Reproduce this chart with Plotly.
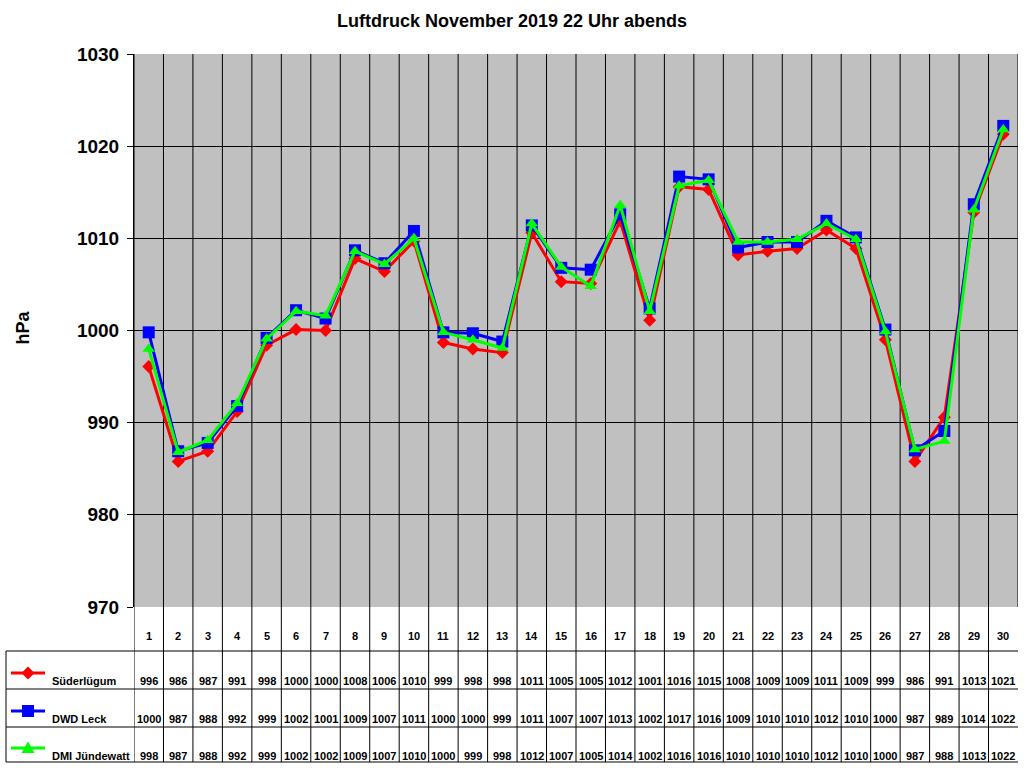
import plotly.graph_objects as go

W, H = 1024, 768

days = list(range(1, 31))
series_names = ["Süderlügum", "DWD Leck", "DMI Jündewatt"]
suederluegum = [996.1, 985.8, 986.9, 991.2, 998.4, 1000.1, 1000.0, 1007.8, 1006.4, 1009.7,
                998.7, 998.0, 997.6, 1010.6, 1005.3, 1005.1, 1011.9, 1001.1, 1015.6, 1015.3,
                1008.2, 1008.6, 1008.9, 1010.9, 1008.9, 999.0, 985.8, 990.6, 1012.8, 1021.3]
dwd_leck = [999.8, 986.9, 987.8, 991.8, 999.2, 1002.2, 1001.3, 1008.7, 1007.3, 1010.8,
            999.8, 999.7, 998.8, 1011.4, 1006.8, 1006.6, 1012.6, 1002.4, 1016.7, 1016.4,
            1009.0, 1009.6, 1009.6, 1011.9, 1010.1, 1000.1, 987.0, 989.1, 1013.7, 1022.2]
dmi_juendewatt = [998.0, 986.8, 988.1, 992.1, 999.1, 1002.1, 1001.6, 1008.6, 1007.2, 1010.0,
                  999.8, 999.0, 998.1, 1011.6, 1006.9, 1004.8, 1013.6, 1002.1, 1015.7, 1016.3,
                  1009.6, 1009.6, 1009.9, 1011.6, 1009.9, 999.9, 987.1, 988.0, 1013.1, 1021.8]
y_ticks = [970, 980, 990, 1000, 1010, 1020, 1030]

all_series = [suederluegum, dwd_leck, dmi_juendewatt]
colors = ["#FF0000", "#0000FF", "#00FF00"]
symbols = ["diamond", "square", "triangle-up"]
msizes = [10, 12, 11]

FONT = "Liberation Sans, Arial, sans-serif"

# plot area in pixels
PL, PR, PT, PB = 134, 1018, 54, 607
ROW_BOT = [651, 689, 727, 762]
LEG_L = 6


def px(x):
    return x / W


def py(y):
    return 1 - y / H


fig = go.Figure()

for name, vals, c, s, ms in zip(series_names, all_series, colors, symbols, msizes):
    fig.add_trace(go.Scatter(
        x=days, y=vals, name=name, mode="lines+markers",
        line=dict(color=c, width=3),
        marker=dict(symbol=s, size=ms, color=c, line=dict(width=0)),
        cliponaxis=False, showlegend=False,
    ))

shapes = []
# vertical grid / table lines at category boundaries
for k in range(30):
    xb = k + 0.5
    shapes.append(dict(type="line", xref="x", yref="paper", x0=xb, x1=xb, layer="between",
                       y0=py(ROW_BOT[-1]), y1=py(PT), line=dict(color="black", width=1)))
# right edge of plot
shapes.append(dict(type="line", xref="x", yref="paper", x0=30.5, x1=30.5, layer="between",
                   y0=py(PB), y1=py(PT), line=dict(color="black", width=1)))
# table horizontal lines
for yb in ROW_BOT:
    shapes.append(dict(type="line", xref="paper", yref="paper", x0=px(LEG_L), x1=px(PR),
                       y0=py(yb), y1=py(yb), line=dict(color="black", width=1)))
# legend box left edge
shapes.append(dict(type="line", xref="paper", yref="paper", x0=px(LEG_L), x1=px(LEG_L),
                   y0=py(ROW_BOT[-1]), y1=py(ROW_BOT[0]), line=dict(color="black", width=1)))

# legend keys
leg_y = [673, 711, 748]
key_paths = [
    "M -6.5 0 L 0 6.5 L 6.5 0 L 0 -6.5 Z",
    "M -6 -6 L 6 -6 L 6 6 L -6 6 Z",
    "M -6.5 -5 L 6.5 -5 L 0 6.5 Z",
]
for i, c in enumerate(colors):
    shapes.append(dict(type="line", xref="paper", yref="paper", x0=px(11), x1=px(45),
                       y0=py(leg_y[i]), y1=py(leg_y[i]), line=dict(color=c, width=3)))
    shapes.append(dict(type="path", xref="paper", yref="paper", xsizemode="pixel", ysizemode="pixel",
                       xanchor=px(28), yanchor=py(leg_y[i]), path=key_paths[i],
                       fillcolor=c, line=dict(color=c, width=0)))

annotations = []
annotations.append(dict(text="<b>Luftdruck November 2019 22 Uhr abends</b>", xref="paper", yref="paper",
                        x=px(512), y=py(21), showarrow=False, font=dict(family=FONT, size=18, color="black"),
                        xanchor="center", yanchor="middle"))
annotations.append(dict(text="<b>hPa</b>", xref="paper", yref="paper", x=px(22.5), y=py(328),
                        textangle=-90, showarrow=False, font=dict(family=FONT, size=18, color="black"),
                        xanchor="center", yanchor="middle"))
for d in days:
    annotations.append(dict(text=f"<b>{d}</b>", xref="x", yref="paper", x=d, y=py(636),
                            showarrow=False, font=dict(family=FONT, size=11, color="black"),
                            xanchor="center", yanchor="middle"))
val_y = [681, 719, 756]
for i, vals in enumerate(all_series):
    for d, v in zip(days, vals):
        annotations.append(dict(text=f"<b>{int(round(v))}</b>", xref="x", yref="paper", x=d, y=py(val_y[i]),
                                showarrow=False, font=dict(family=FONT, size=11, color="black"),
                                xanchor="center", yanchor="middle"))
    annotations.append(dict(text=f"<b>{series_names[i]}</b>", xref="paper", yref="paper",
                            x=px(50), y=py(val_y[i]), showarrow=False,
                            font=dict(family=FONT, size=11, color="black"),
                            xanchor="left", yanchor="middle"))

fig.update_layout(
    width=W, height=H,
    margin=dict(l=0, r=0, t=0, b=0, autoexpand=False),
    paper_bgcolor="white",
    plot_bgcolor="#C0C0C0",
    xaxis=dict(domain=[px(PL), px(PR)], range=[0.5, 30.5], showgrid=False, zeroline=False,
               showticklabels=False, ticks="", showline=False, fixedrange=True, automargin=False),
    yaxis=dict(domain=[py(PB), py(PT)], range=[970, 1030], tickvals=y_ticks,
               ticktext=[f"<b>{t}</b>" for t in y_ticks],
               showgrid=True, gridcolor="black", gridwidth=1, zeroline=False,
               ticks="outside", ticklen=6, tickcolor="black", tickwidth=1,
               showline=True, linecolor="black", linewidth=1, automargin=False, fixedrange=True,
               tickfont=dict(family=FONT, size=19, color="black"), ticklabelstandoff=4),
    shapes=shapes,
    annotations=annotations,
    showlegend=False,
)

post = "document.body.style.margin='0';"
fig.write_html("out.html", post_script=post, config={"displayModeBar": False})
